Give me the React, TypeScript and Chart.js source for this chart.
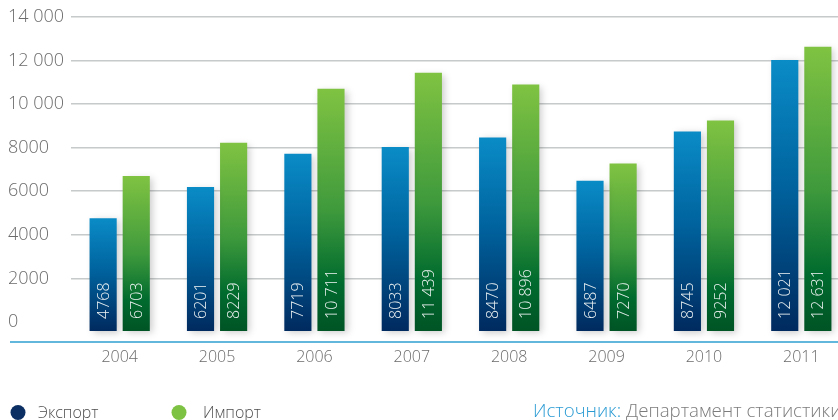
import React, { useEffect, useRef } from 'react';
import { Chart, registerables } from 'chart.js';

Chart.register(...registerables);

const years = ['2004', '2005', '2006', '2007', '2008', '2009', '2010', '2011'];
const exportValues = [4768, 6201, 7719, 8033, 8470, 6487, 8745, 12021];
const importValues = [6703, 8229, 10711, 11439, 10896, 7270, 9252, 12631];
const yTickValues = [0, 2000, 4000, 6000, 8000, 10000, 12000, 14000];
const seriesNames = ['Экспорт', 'Импорт'];
const sourceLabel = 'Источник:';
const sourceText = 'Департамент статистики';

const FONT = '"Open Sans", "DejaVu Sans", sans-serif';
const BAR_BASE = -413;
const Y_MAX = 14000;

const blueStops: [number, string][] = [
  [0, '#0a8cc7'],
  [0.45, '#00649f'],
  [1, '#002a5f'],
];
const greenStops: [number, string][] = [
  [0, '#80c342'],
  [0.5, '#3f9a3c'],
  [0.8, '#006b2e'],
  [1, '#005425'],
];

function fmt(v: number): string {
  const s = String(v);
  return v >= 10000 ? s.slice(0, -3) + ' ' + s.slice(-3) : s;
}

function gradientFor(stops: [number, string][]) {
  return (ctx: any) => {
    const chart = ctx.chart;
    const y = chart.scales && chart.scales.y;
    if (!chart.chartArea || !y || ctx.type !== 'data') return stops[0][1];
    const top = y.getPixelForValue(ctx.raw);
    const bottom = y.getPixelForValue(BAR_BASE);
    if (!isFinite(top) || !isFinite(bottom) || top === bottom) return stops[0][1];
    const g = chart.ctx.createLinearGradient(0, top, 0, bottom);
    stops.forEach(([o, c]) => g.addColorStop(o, c));
    return g;
  };
}

const decorPlugin = {
  id: 'decor',
  beforeDatasetsDraw(chart: any) {
    const ctx = chart.ctx;
    ctx.save();
    ctx.shadowColor = 'rgba(0,0,0,0.2)';
    ctx.shadowBlur = 7;
    ctx.shadowOffsetX = 3;
    ctx.shadowOffsetY = 2;
  },
  afterDatasetsDraw(chart: any) {
    const ctx = chart.ctx;
    ctx.restore();
    const y = chart.scales.y;
    const basePx = y.getPixelForValue(BAR_BASE);
    ctx.save();
    ctx.fillStyle = '#eef3f3';
    ctx.font = `300 16px ${FONT}`;
    ctx.textAlign = 'left';
    ctx.textBaseline = 'middle';
    chart.data.datasets.forEach((ds: any, di: number) => {
      const meta = chart.getDatasetMeta(di);
      meta.data.forEach((bar: any, i: number) => {
        ctx.save();
        ctx.translate(bar.x + 1, basePx - 12);
        ctx.rotate(-Math.PI / 2);
        ctx.fillText(fmt(ds.data[i]), 0, 0);
        ctx.restore();
      });
    });
    ctx.restore();
  },
  afterDraw(chart: any) {
    const ctx = chart.ctx;
    ctx.save();
    ctx.strokeStyle = '#2e9fd2';
    ctx.lineWidth = 1.5;
    ctx.beginPath();
    ctx.moveTo(10, 342);
    ctx.lineTo(chart.width, 342);
    ctx.stroke();

    const legendItems = [
      { x: 18, color: '#0b2f63', text: seriesNames[0], tx: 38 },
      { x: 179, color: '#7dc242', text: seriesNames[1], tx: 203 },
    ];
    ctx.font = `300 16px ${FONT}`;
    ctx.textBaseline = 'alphabetic';
    ctx.textAlign = 'left';
    legendItems.forEach((it) => {
      ctx.fillStyle = it.color;
      ctx.beginPath();
      ctx.arc(it.x, 412.5, 7.5, 0, Math.PI * 2);
      ctx.fill();
      ctx.fillStyle = '#4e4e4e';
      ctx.fillText(it.text, it.tx, 418);
    });

    ctx.font = `300 18.7px ${FONT}`;
    ctx.fillStyle = '#2a9bd3';
    ctx.fillText(sourceLabel, 533, 417);
    const w = ctx.measureText(sourceLabel + ' ').width;
    ctx.fillStyle = '#7c7c7c';
    ctx.fillText(sourceText, 533 + w, 417);
    ctx.restore();
  },
};

export default function App() {
  const ref = useRef<HTMLCanvasElement | null>(null);

  useEffect(() => {
    if (!ref.current) return;
    const chart = new Chart(ref.current, {
      type: 'bar',
      data: {
        labels: years,
        datasets: [
          {
            label: seriesNames[0],
            data: exportValues,
            backgroundColor: gradientFor(blueStops),
            base: BAR_BASE,
            clip: false as any,
            barPercentage: 0.82,
            categoryPercentage: 0.68,
          },
          {
            label: seriesNames[1],
            data: importValues,
            backgroundColor: gradientFor(greenStops),
            base: BAR_BASE,
            clip: false as any,
            barPercentage: 0.82,
            categoryPercentage: 0.68,
          },
        ],
      },
      options: {
        responsive: false,
        animation: false,
        devicePixelRatio: 1,
        layout: { padding: { left: 8, right: 10, top: 17, bottom: 0 } },
        plugins: {
          legend: { display: false },
          tooltip: { enabled: false },
        },
        scales: {
          x: {
            grid: { display: false, drawTicks: false },
            border: { display: false },
            ticks: {
              color: '#6b6b6b',
              font: { family: FONT, size: 16, weight: '300' as any },
              padding: 17,
              maxRotation: 0,
            },
            afterFit: (s: any) => {
              s.height = 89;
            },
          },
          y: {
            min: BAR_BASE,
            max: Y_MAX,
            border: { display: false },
            grid: {
              drawTicks: false,
              lineWidth: 1.6,
              color: (c: any) => (c.tick && c.tick.value === 0 ? 'rgba(0,0,0,0)' : '#c6caca'),
            },
            ticks: {
              color: '#6b6b6b',
              font: { family: FONT, size: 18, weight: '300' as any },
              crossAlign: 'far',
              padding: 0,
              callback: (v: any) => fmt(Number(v)),
            },
            afterBuildTicks: (s: any) => {
              s.ticks = yTickValues.map((v) => ({ value: v }));
            },
            afterFit: (s: any) => {
              s.width = 63;
            },
          },
        },
      },
      plugins: [decorPlugin],
    });
    return () => chart.destroy();
  }, []);

  return (
    <div
      style={{
        position: 'fixed',
        left: 0,
        top: 0,
        width: 838,
        height: 420,
        overflow: 'hidden',
        background: '#ffffff',
      }}
    >
      <canvas ref={ref} width={860} height={420} style={{ width: 860, height: 420, display: 'block' }} />
    </div>
  );
}
